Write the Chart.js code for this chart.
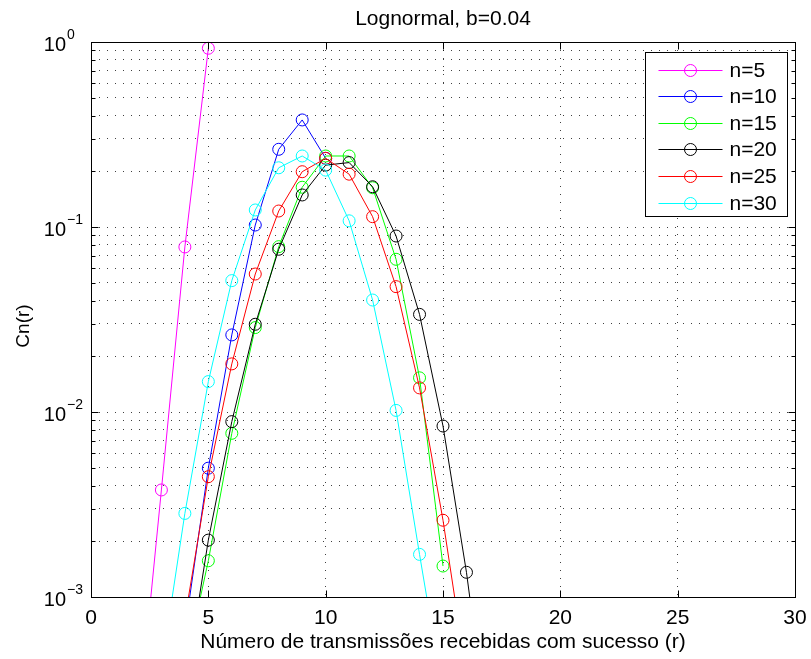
<!DOCTYPE html>
<html>
<head>
<meta charset="utf-8">
<script src="https://cdn.jsdelivr.net/npm/chart.js@4.4.0/dist/chart.umd.min.js"></script>
<style>
  html,body{margin:0;padding:0;background:#fff;}
  canvas{display:block;}
</style>
</head>
<body>
<canvas id="cv" width="811" height="659"></canvas>
<script>
// ==== データ ====
const TITLE = 'Lognormal, b=0.04';
const X_LABEL = 'Número de transmissões recebidas com sucesso (r)';
const Y_LABEL = 'Cn(r)';

// r（横軸のカテゴリ）
const r = [2, 3, 4, 5, 6, 7, 8, 9, 10, 11, 12, 13, 14, 15, 16, 17];

// 各 n の Cn(r)
const n5  = [1.96e-4, 0.00379, 0.078, 0.925, null, null, null, null, null, null, null, null, null, null, null, null];
const n10 = [null, null, 6.6e-4, 0.00497, 0.0261, 0.1025, 0.263, 0.379, 0.235, null, null, null, null, null, null, null];
const n15 = [null, null, 4.1e-4, 0.00157, 0.00767, 0.0286, 0.0783, 0.164, 0.242, 0.242, 0.163, 0.0669, 0.0153, 0.00147, null, null];
const n20 = [null, null, 3.2e-4, 0.00203, 0.00887, 0.0298, 0.0758, 0.149, 0.216, 0.223, 0.165, 0.0894, 0.0337, 0.0084, 0.00136, 1.5e-4];
const n25 = [null, null, 7.6e-4, 0.00447, 0.0182, 0.0557, 0.122, 0.199, 0.235, 0.193, 0.1137, 0.0476, 0.0135, 0.0026, 3.8e-4, null];
const n30 = [null, 4.1e-4, 0.00283, 0.0146, 0.0513, 0.1236, 0.209, 0.242, 0.203, 0.108, 0.0403, 0.0102, 0.0017, 3e-4, null, null];

const SERIES_LABELS = ['n=5', 'n=10', 'n=15', 'n=20', 'n=25', 'n=30'];
const SERIES_VALUES = [n5, n10, n15, n20, n25, n30];
const SERIES_COLORS = ['#ff00ff', '#0000ff', '#00ff00', '#000000', '#ff0000', '#00ffff'];

// 目盛り
const X_TICKS = [0, 5, 10, 15, 20, 25, 30];
const Y_EXPS  = [0, -1, -2, -3];

const FONT = '"Liberation Sans", Arial, Helvetica, sans-serif';

// log の補助目盛り（1..9 × 10^e）
const yGridVals = [];
for (let e = -3; e < 0; e++) for (let k = 1; k <= 9; k++) yGridVals.push(k * Math.pow(10, e));
yGridVals.push(1);

const toPoints = (vals) => vals.map((v, i) => (v == null ? null : { x: r[i], y: v })).filter(Boolean);

/* ===== MATLAB 風の枠・目盛り・文字・凡例 ===== */
const matlabAxes = {
  id: 'matlabAxes',
  afterDatasetsDraw(c) {
    const { ctx, chartArea: a, scales: { x, y } } = c;
    const L = Math.round(a.left) + 0.5, R = Math.round(a.right) + 0.5;
    const T = Math.round(a.top) + 0.5, B = Math.round(a.bottom) + 0.5;
    ctx.save();
    ctx.strokeStyle = '#000';
    ctx.lineWidth = 1;
    ctx.beginPath();
    // 内向きの目盛り
    X_TICKS.forEach(v => {
      const px = Math.round(x.getPixelForValue(v)) + 0.5;
      ctx.moveTo(px, B); ctx.lineTo(px, B - 7);
      ctx.moveTo(px, T); ctx.lineTo(px, T + 7);
    });
    yGridVals.forEach(v => {
      const major = Math.abs(Math.log10(v) - Math.round(Math.log10(v))) < 1e-9;
      const len = major ? 7 : 4;
      const py = Math.round(y.getPixelForValue(v)) + 0.5;
      ctx.moveTo(L, py); ctx.lineTo(L + len, py);
      ctx.moveTo(R, py); ctx.lineTo(R - len, py);
    });
    ctx.stroke();
    ctx.strokeRect(L, T, R - L, B - T);
    ctx.restore();
  },
  afterDraw(c) {
    const { ctx, chartArea: a, scales: { x, y } } = c;
    ctx.save();
    ctx.fillStyle = '#000';

    // 横軸目盛りラベル
    ctx.font = `21px ${FONT}`;
    ctx.textAlign = 'center';
    ctx.textBaseline = 'alphabetic';
    X_TICKS.forEach(v => ctx.fillText(String(v), x.getPixelForValue(v), a.bottom + 27));

    // 縦軸目盛りラベル 10^e
    Y_EXPS.forEach(e => {
      const py = y.getPixelForValue(Math.pow(10, e));
      ctx.font = `20px ${FONT}`;
      ctx.textAlign = 'right';
      ctx.fillText('10', a.left - 25, py + 8.5);
      ctx.font = `14px ${FONT}`;
      ctx.textAlign = 'left';
      ctx.fillText(e === 0 ? '0' : '\u2212' + Math.abs(e), a.left - 24, py - 3);
    });

    // タイトル・軸ラベル
    const cx = (a.left + a.right) / 2;
    ctx.textAlign = 'center';
    ctx.font = `21px ${FONT}`;
    ctx.fillText(TITLE, cx, a.top - 17);
    ctx.fillText(X_LABEL, cx, a.bottom + 51);
    ctx.save();
    ctx.translate(24, 326);
    ctx.rotate(-Math.PI / 2);
    ctx.textBaseline = 'middle';
    ctx.font = `19px ${FONT}`;
    ctx.fillText(Y_LABEL, 0, 0);
    ctx.restore();

    // 凡例
    const bw = 142, bh = 164;
    const bx = Math.round(a.right) - 150 + 0.5, by = Math.round(a.top) + 10 + 0.5;
    ctx.fillStyle = '#fff';
    ctx.fillRect(bx, by, bw, bh);
    ctx.strokeStyle = '#000';
    ctx.lineWidth = 1;
    ctx.strokeRect(bx, by, bw, bh);
    ctx.font = `21px ${FONT}`;
    ctx.textAlign = 'left';
    ctx.textBaseline = 'middle';
    c.data.datasets.forEach((ds, i) => {
      const ry = Math.round(by + 17 + i * 26.6) + 0.5;
      ctx.strokeStyle = ds.borderColor;
      ctx.beginPath();
      ctx.moveTo(bx + 13, ry); ctx.lineTo(bx + 77, ry);
      ctx.stroke();
      ctx.beginPath();
      ctx.arc(bx + 45, ry, 6, 0, Math.PI * 2);
      ctx.stroke();
      ctx.fillStyle = '#000';
      ctx.fillText(ds.label, bx + 84, ry + 1);
    });
    ctx.restore();
  }
};

/* ===== Chart.js ===== */
const datasets = SERIES_VALUES.map((vals, i) => ({
  label: SERIES_LABELS[i],
  data: toPoints(vals),
  borderColor: SERIES_COLORS[i],
  backgroundColor: 'transparent',
  borderWidth: 1,
  pointRadius: 6,
  pointHoverRadius: 6,
  pointBorderWidth: 1,
  pointBackgroundColor: 'transparent',
  pointBorderColor: SERIES_COLORS[i],
  tension: 0,
  order: SERIES_VALUES.length - i,   // 後の系列を上に
  clip: { left: 0, top: 8, right: 0, bottom: 0 }
}));

const grid = { color: 'rgba(0,0,0,0.75)', lineWidth: 1, drawTicks: false };

new Chart(document.getElementById('cv').getContext('2d'), {
  type: 'line',
  data: { datasets },
  options: {
    responsive: false,
    animation: false,
    layout: { padding: { left: 91, right: 16, top: 42, bottom: 62 } },
    scales: {
      x: {
        type: 'linear', min: 0, max: 30,
        afterBuildTicks: s => { s.ticks = X_TICKS.map(v => ({ value: v })); },
        ticks: { display: false },
        grid,
        border: { display: false, dash: [1, 7] }
      },
      y: {
        type: 'logarithmic', min: 1e-3, max: 1,
        afterBuildTicks: s => { s.ticks = yGridVals.map(v => ({ value: v })); },
        ticks: { display: false },
        grid,
        border: { display: false, dash: [1, 7] }
      }
    },
    plugins: { legend: { display: false }, tooltip: { enabled: false } }
  },
  plugins: [matlabAxes]
});
</script>
</body>
</html>
